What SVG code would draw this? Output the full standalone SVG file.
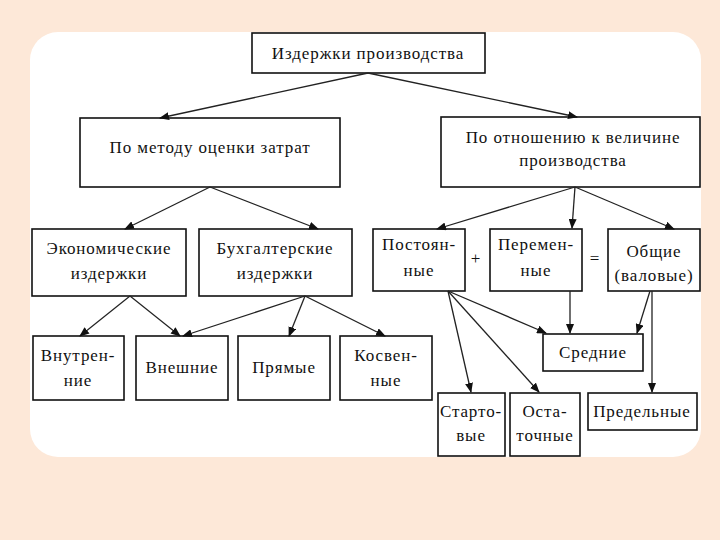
<svg xmlns="http://www.w3.org/2000/svg" width="720" height="540" viewBox="0 0 720 540">
<defs>
<marker id="ah" markerWidth="10" markerHeight="8" refX="9" refY="4" orient="auto" markerUnits="userSpaceOnUse">
<path d="M0,0 L10,4 L0,8 Z" fill="#111"/>
</marker>
<style>
.box{fill:#fff;stroke:#111;stroke-width:1.6}
.t{font-family:"Liberation Serif","Times New Roman",serif;font-size:17px;letter-spacing:0.9px;fill:#111;text-anchor:middle}
.c line{stroke:#222;stroke-width:1.3;marker-end:url(#ah)}
</style>
</defs>
<rect x="0" y="0" width="720" height="540" fill="#fde8d8"/>
<rect x="30" y="32" width="671" height="425" rx="28" fill="#fff"/>

<g id="n-top"><rect class="box" x="252" y="33" width="233" height="40"/><text class="t" x="368" y="59">Издержки производства</text></g>
<g id="n-method"><rect class="box" x="80" y="118" width="260" height="69"/><text class="t" x="210" y="153">По методу оценки затрат</text></g>
<g id="n-volume"><rect class="box" x="441" y="117" width="259" height="70"/><text class="t" x="573" y="143">По отношению к величине</text><text class="t" x="573" y="166">производства</text></g>
<g id="n-econ"><rect class="box" x="32" y="229" width="154" height="67"/><text class="t" x="109" y="254">Экономические</text><text class="t" x="109" y="279">издержки</text></g>
<g id="n-buh"><rect class="box" x="199" y="229" width="153" height="67"/><text class="t" x="275" y="254">Бухгалтерские</text><text class="t" x="275" y="279">издержки</text></g>
<g id="n-post"><rect class="box" x="373" y="229" width="92" height="62"/><text class="t" x="419" y="250">Постоян-</text><text class="t" x="419" y="276">ные</text></g>
<g id="n-per"><rect class="box" x="490" y="229" width="92" height="62"/><text class="t" x="536" y="250">Перемен-</text><text class="t" x="536" y="276">ные</text></g>
<g id="n-obsh"><rect class="box" x="608" y="229" width="92" height="62"/><text class="t" x="654" y="257">Общие</text><text class="t" x="654" y="281">(валовые)</text></g>
<text class="t" x="476" y="264">+</text>
<text class="t" x="595" y="264">=</text>
<g id="n-vnutr"><rect class="box" x="33" y="336" width="91" height="64"/><text class="t" x="78" y="361">Внутрен-</text><text class="t" x="78" y="386">ние</text></g>
<g id="n-vnesh"><rect class="box" x="136" y="336" width="92" height="64"/><text class="t" x="182" y="373">Внешние</text></g>
<g id="n-pryam"><rect class="box" x="238" y="336" width="92" height="64"/><text class="t" x="284" y="373">Прямые</text></g>
<g id="n-kosv"><rect class="box" x="340" y="336" width="92" height="64"/><text class="t" x="386" y="361">Косвен-</text><text class="t" x="386" y="386">ные</text></g>
<g id="n-sred"><rect class="box" x="543" y="334" width="100" height="37"/><text class="t" x="593" y="358">Средние</text></g>
<g id="n-start"><rect class="box" x="438" y="393" width="67" height="63"/><text class="t" x="471" y="417">Старто-</text><text class="t" x="471" y="441">вые</text></g>
<g id="n-ost"><rect class="box" x="510" y="393" width="70" height="63"/><text class="t" x="545" y="417">Оста-</text><text class="t" x="545" y="441">точные</text></g>
<g id="n-pred"><rect class="box" x="588" y="393" width="109" height="37"/><text class="t" x="642" y="417">Предельные</text></g>

<g id="connectors" class="c">
<line x1="368" y1="73" x2="160" y2="118"/>
<line x1="368" y1="73" x2="577" y2="117"/>
<line x1="210" y1="187" x2="125" y2="229"/>
<line x1="210" y1="187" x2="318" y2="229"/>
<line x1="575" y1="187" x2="437" y2="229"/>
<line x1="575" y1="187" x2="572" y2="228"/>
<line x1="575" y1="187" x2="674" y2="229"/>
<line x1="130" y1="296" x2="80" y2="336"/>
<line x1="130" y1="296" x2="180" y2="336"/>
<line x1="305" y1="296" x2="183" y2="336"/>
<line x1="305" y1="296" x2="289" y2="336"/>
<line x1="305" y1="296" x2="385" y2="336"/>
<line x1="448" y1="291" x2="546" y2="333"/>
<line x1="448" y1="291" x2="471" y2="392"/>
<line x1="448" y1="291" x2="539" y2="392"/>
<line x1="570" y1="291" x2="570" y2="333"/>
<line x1="650" y1="291" x2="637" y2="333"/>
<line x1="652" y1="291" x2="652" y2="392"/>
</g>
</svg>
